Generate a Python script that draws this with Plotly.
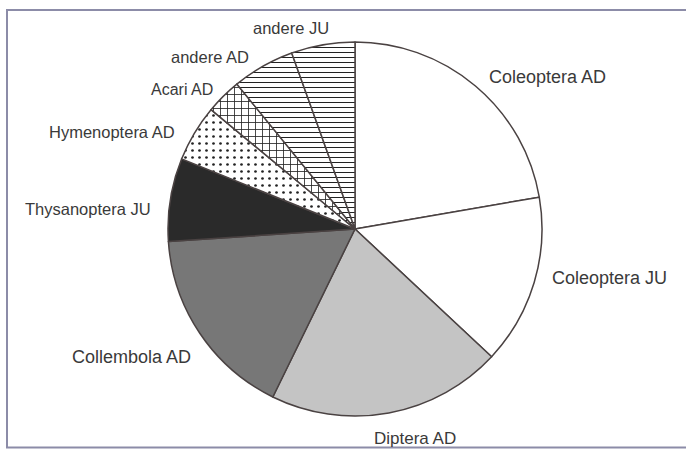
import plotly.graph_objects as go

labels = ["Coleoptera AD", "Coleoptera JU", "Diptera AD", "Collembola AD",
          "Thysanoptera JU", "Hymenoptera AD", "Acari AD", "andere AD", "andere JU"]
values = [22.3, 14.7, 20.3, 16.7, 7.2, 4.9, 3.1, 5.4, 5.5]

# styling (not data)
colors = ["#ffffff", "#ffffff", "#c4c4c4", "#777777", "#2a2a2a",
          "#ffffff", "#ffffff", "#ffffff", "#ffffff"]
patterns = ["", "", "", "", "", ".", "+", "-", "-"]
pattern_sizes = [6, 6, 6, 6, 6, 7, 7, 5, 5]
pattern_solidity = [0.2, 0.2, 0.2, 0.2, 0.2, 0.12, 0.22, 0.2, 0.2]
label_sizes = [18, 18, 17, 18, 16.5, 16.5, 16, 16.5, 16.5]
# label text centres in pixels (layout)
label_px = [(547, 77), (609, 278), (415, 438), (131, 357), (88, 209),
            (112, 132), (182, 89), (210, 57), (291, 28)]

W, H = 686, 450
cx, cy, r = 355, 229, 187

fig = go.Figure(go.Pie(
    labels=labels, values=values, sort=False, direction="clockwise", rotation=0,
    textinfo="none",
    marker=dict(colors=colors, line=dict(color="#4a4242", width=1.5),
                pattern=dict(shape=patterns, fgcolor="#222222", bgcolor="#ffffff",
                             size=pattern_sizes, solidity=pattern_solidity)),
    domain=dict(x=[(cx - r) / W, (cx + r) / W], y=[(H - cy - r) / H, (H - cy + r) / H]),
    showlegend=False, hoverinfo="label+percent",
))

annotations = []
for lab, (px, py), fs in zip(labels, label_px, label_sizes):
    annotations.append(dict(
        text=lab, x=px / W, y=1 - py / H, xref="paper", yref="paper",
        xanchor="center", yanchor="middle", showarrow=False,
        font=dict(family="Liberation Sans, Arial, sans-serif", size=fs, color="#3a3a3a"),
    ))

fig.update_layout(
    width=W, height=H, margin=dict(l=0, r=0, t=0, b=0),
    paper_bgcolor="#ffffff", plot_bgcolor="#ffffff",
    annotations=annotations,
    shapes=[dict(type="rect", xref="paper", yref="paper",
                 x0=7 / W, x1=1.02, y0=(H - 447.5) / H, y1=(H - 10) / H,
                 line=dict(color="#8c8ca8", width=2))],
)

fig.write_html("out.html", config={"displayModeBar": False},
               post_script="document.body.style.margin='0';")
